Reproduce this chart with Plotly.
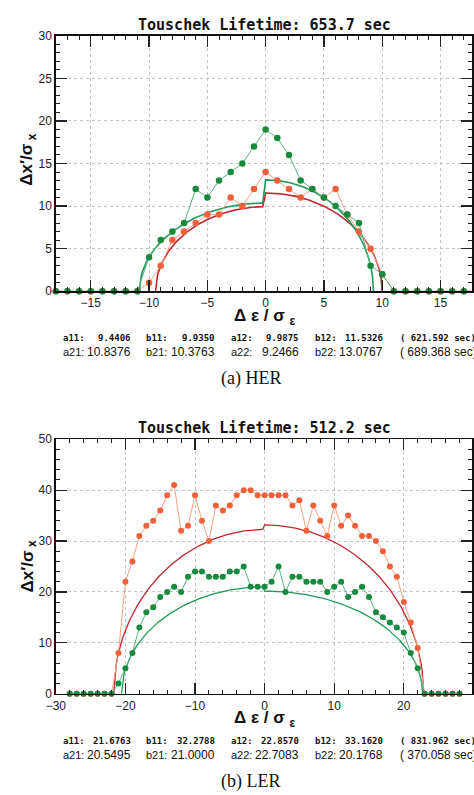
import numpy as np
import plotly.graph_objects as go

# ---------------- data ----------------
her_x = list(range(-18, 19))
her_orange = [0, 0, 0, 0, 0, 0, 0, 0,
              1, 3, 6, 7, 8, 9, 9, 11, 10, 12,
              14,
              13, 12, 11, 12, 11, 12, 9, 7, 5, 2,
              0, 0, 0, 0, 0, 0, 0, 0]
her_green = [0, 0, 0, 0, 0, 0, 0, 0,
             4, 6, 7, 8, 12, 11, 13, 14, 15, 17,
             19,
             18, 16, 13, 12, 11, 10, 9, 8, 3, 2,
             0, 0, 0, 0, 0, 0, 0, 0]
# ellipse fit parameters (a: half width, b: height) left / right
her_fit1 = [9.4406, 9.9350, 9.9875, 11.5326]
her_fit2 = [10.8376, 10.3763, 9.2466, 13.0767]
her_title = "Touschek Lifetime: 653.7 sec"
her_lines = [["a11:", "9.4406", "b11:", "9.9350", "a12:", "9.9875", "b12:", "11.5326", "( 621.592 sec)"],
             ["a21:", "10.8376", "b21:", "10.3763", "a22:", "9.2466", "b22:", "13.0767", "( 689.368 sec)"]]

ler_x = list(range(-28, 29))
ler_orange = [0, 0, 0, 0, 0, 0, 0,
              8, 22, 26, 31, 33, 34, 36, 39, 41, 32, 33, 39, 34, 30, 37, 36, 37, 39, 40, 40, 39,
              39,
              39, 39, 39, 37, 38, 32, 37, 34, 31, 37, 33, 35, 33, 31, 31, 30, 28, 25, 23, 18, 14, 9,
              0, 0, 0, 0, 0, 0]
ler_green = [0, 0, 0, 0, 0, 0, 0,
             2, 5, 8, 13, 16, 17, 19, 20, 21, 20, 23, 24, 24, 23, 23, 23, 24, 24, 25, 21, 21,
             21,
             22, 25, 20, 23, 23, 22, 22, 22, 20, 21, 22, 19, 20, 21, 19, 16, 15, 14, 13, 12, 8, 5,
             0, 0, 0, 0, 0, 0]
ler_fit1 = [21.6763, 32.2788, 22.8570, 33.1620]
ler_fit2 = [20.5495, 21.0000, 22.7083, 20.1768]
ler_title = "Touschek Lifetime: 512.2 sec"
ler_lines = [["a11:", "21.6763", "b11:", "32.2788", "a12:", "22.8570", "b12:", "33.1620", "( 831.962 sec)"],
             ["a21:", "20.5495", "b21:", "21.0000", "a22:", "22.7083", "b22:", "20.1768", "( 370.058 sec)"]]

# ---------------- styling ----------------
W, H = 474, 795
C_OR_DOT = "#f2603a"
C_OR_LINE = "#f6a184"
C_GR_DOT = "#178a3e"
C_GR_LINE = "#5cb384"
C_RED_FIT = "#c1272d"
C_GR_FIT = "#1e9a58"


def px_x(p):
    return p / W


def px_y(p):
    return 1 - p / H


def ellipse(params):
    a1, b1, a2, b2 = params
    xl = np.linspace(-a1, -0.25, 120)
    yl = b1 * np.sqrt(np.clip(1 - (xl / a1) ** 2, 0, None))
    xr = np.linspace(0, a2, 120)
    yr = b2 * np.sqrt(np.clip(1 - (xr / a2) ** 2, 0, None))
    return np.concatenate([xl, xr]), np.concatenate([yl, yr])


fig = go.Figure()


def add_panel(xs, orange, green, fit1, fit2, xa, ya, msize, fw):
    for params, col in ((fit1, C_RED_FIT), (fit2, C_GR_FIT)):
        ex, ey = ellipse(params)
        fig.add_trace(go.Scatter(x=ex, y=ey, mode="lines", line=dict(color=col, width=fw),
                                 xaxis=xa, yaxis=ya, showlegend=False, hoverinfo="skip"))
    fig.add_trace(go.Scatter(x=xs, y=orange, mode="lines+markers",
                             line=dict(color=C_OR_LINE, width=1),
                             marker=dict(color=C_OR_DOT, size=msize),
                             xaxis=xa, yaxis=ya, showlegend=False, cliponaxis=False))
    fig.add_trace(go.Scatter(x=xs, y=green, mode="lines+markers",
                             line=dict(color=C_GR_LINE, width=1),
                             marker=dict(color=C_GR_DOT, size=msize),
                             xaxis=xa, yaxis=ya, showlegend=False, cliponaxis=False))


add_panel(her_x, her_orange, her_green, her_fit1, her_fit2, "x", "y", 6.5, 1.6)
add_panel(ler_x, ler_orange, ler_green, ler_fit1, ler_fit2, "x2", "y2", 6, 1.3)

tickfont = dict(family="Liberation Sans Narrow, Liberation Sans, sans-serif", size=12, color="#222")


def axis_common(dtick, mdtick):
    return dict(dtick=dtick, tick0=0, ticks="inside", ticklen=11, tickwidth=1.2, tickcolor="#222",
                minor=dict(dtick=mdtick, ticks="inside", ticklen=4, tickwidth=1, tickcolor="#222",
                           showgrid=False),
                showgrid=True, gridcolor="#c4c4c4", griddash="dot", gridwidth=1,
                showline=True, linecolor="#111", linewidth=1.5, mirror="ticks",
                zeroline=False, tickfont=tickfont, fixedrange=True)


xdom = [px_x(47), 1.0]
fig.update_layout(
    width=W, height=H, margin=dict(l=0, r=0, t=0, b=0),
    paper_bgcolor="white", plot_bgcolor="white", showlegend=False,
    xaxis=dict(domain=xdom, anchor="y", range=[-18, 17.7], **axis_common(5, 1)),
    yaxis=dict(domain=[px_y(289.3), px_y(29.3)], anchor="x", range=[0, 30], **axis_common(5, 1)),
    xaxis2=dict(domain=xdom, anchor="y2", range=[-30, 29.8], **axis_common(10, 2)),
    yaxis2=dict(domain=[px_y(699), px_y(440)], anchor="x2", range=[0, 50], **axis_common(10, 2)),
)

ann = []
mono = "DejaVu Sans Mono, Liberation Mono, monospace"
sans = "Liberation Sans, Arial, sans-serif"


def add_text_block(title, lines, title_y, xt_y, yt_y, l1_y, l2_y, cap_y, cap):
    ann.append(dict(text=title, x=px_x(261), y=px_y(title_y), xref="paper", yref="paper",
                    showarrow=False, xanchor="center", yanchor="middle",
                    font=dict(family=mono, size=15, color="#111", weight="bold")))
    ann.append(dict(text="<b>Δ ε / σ <sub>ε</sub></b>", x=px_x(262), y=px_y(xt_y), xref="paper", yref="paper",
                    showarrow=False, xanchor="center", yanchor="middle",
                    font=dict(family=sans, size=17, color="#111")))
    ann.append(dict(text="<b>Δx′/σ<sub> x</sub></b>", x=px_x(19), y=px_y(yt_y), xref="paper", yref="paper",
                    showarrow=False, xanchor="center", yanchor="middle", textangle=-90,
                    font=dict(family=sans, size=17, color="#111")))
    label_x = [52, 137, 225, 311]
    value_end = [126, 212, 299, 385]
    paren_x = 398
    for li, (items, yy) in enumerate(zip(lines, (l1_y, l2_y))):
        if li == 0:
            fl = fv = dict(family=mono, size=9, color="#111", weight="bold")
        else:
            fl = dict(family=sans, size=11, color="#111")
            fv = dict(family=sans, size=12, color="#111")
        for k in range(4):
            ann.append(dict(text=items[2 * k], x=px_x(label_x[k]), y=px_y(yy), xref="paper", yref="paper",
                            showarrow=False, xanchor="left", yanchor="middle", font=fl))
            ann.append(dict(text=items[2 * k + 1], x=px_x(value_end[k]), y=px_y(yy), xref="paper",
                            yref="paper", showarrow=False, xanchor="right", yanchor="middle", font=fv))
        ann.append(dict(text=items[8], x=px_x(paren_x), y=px_y(yy), xref="paper", yref="paper",
                        showarrow=False, xanchor="left", yanchor="middle", font=fv))
    ann.append(dict(text=cap, x=px_x(247), y=px_y(cap_y), xref="paper", yref="paper",
                    showarrow=False, xanchor="center", yanchor="middle",
                    font=dict(family="Liberation Serif, Times New Roman, serif", size=18, color="#111")))


add_text_block(her_title, her_lines, 18, 316, 156, 336.7, 351, 378, "(a) HER")
add_text_block(ler_title, ler_lines, 429, 725, 570, 746.7, 761, 788, "(b) LER")

fig.update_layout(annotations=ann)
fig.write_html("out.html", config={"displayModeBar": False, "staticPlot": True},
               post_script="document.body.style.margin='0px';document.body.style.overflow='hidden';")
